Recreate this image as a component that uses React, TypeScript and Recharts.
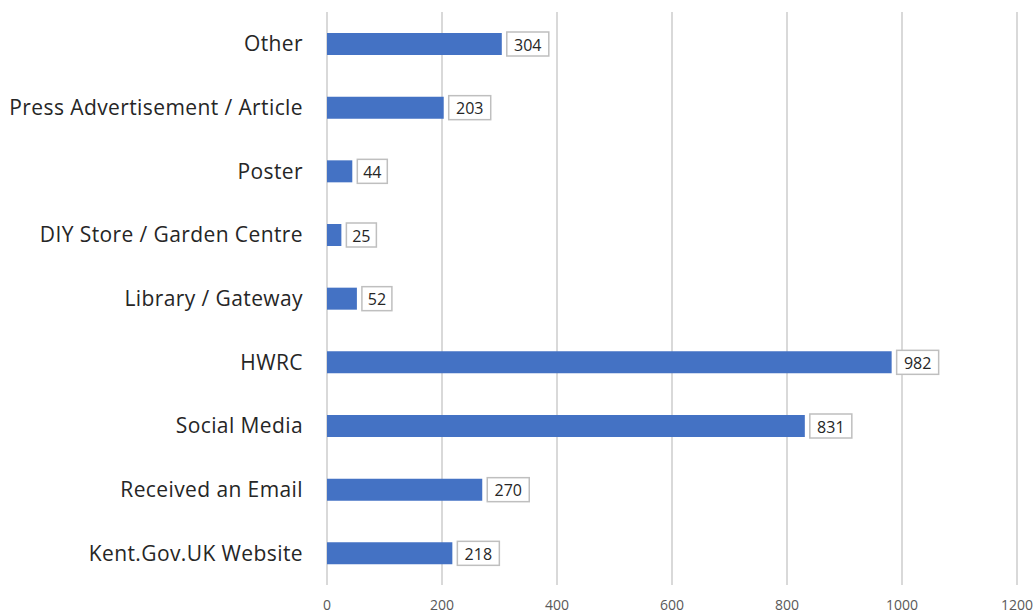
import React from 'react';
import { BarChart, Bar, XAxis, YAxis, CartesianGrid, LabelList } from 'recharts';

const categories = [
  'Other',
  'Press Advertisement / Article',
  'Poster',
  'DIY Store / Garden Centre',
  'Library / Gateway',
  'HWRC',
  'Social Media',
  'Received an Email',
  'Kent.Gov.UK Website',
];
const responses = [304, 203, 44, 25, 52, 982, 831, 270, 218];
const xTicks = [0, 200, 400, 600, 800, 1000, 1200];

const data = categories.map((name, i) => ({ name, value: responses[i] }));

const FONT = "'Open Sans', sans-serif";

// boxed value label to the right of each bar
const BoxLabel = (props: any) => {
  const { x, y, width, height, value } = props;
  const text = String(value);
  const w = text.length * 12 + 6;
  const bx = Number(x) + Number(width) + 5;
  const by = Number(y) + Number(height) / 2 - 12;
  return (
    <g>
      <rect x={bx} y={by} width={w} height={24} fill="#fff" stroke="#bfbfbf" strokeWidth={1.5} />
      <text
        x={bx + w / 2}
        y={by + 12.5}
        textAnchor="middle"
        dominantBaseline="central"
        fontSize={16}
        fontFamily={FONT}
        fill="#262626"
      >
        {text}
      </text>
    </g>
  );
};

export default function App() {
  return (
    <div style={{ position: 'absolute', left: 0, top: 0, background: '#fff' }}>
      <BarChart
        width={1036}
        height={615}
        data={data}
        layout="vertical"
        margin={{ top: 12, right: 19, bottom: 0, left: 0 }}
        barCategoryGap={0}
      >
        <CartesianGrid horizontal={false} stroke="#d9d9d9" strokeWidth={2} />
        <XAxis
          type="number"
          domain={[0, 1200]}
          ticks={xTicks}
          interval={0}
          axisLine={false}
          tickLine={false}
          tickMargin={9}
          height={30}
          tick={{ fontSize: 14, fill: '#595959', fontFamily: FONT }}
        />
        <YAxis
          type="category"
          dataKey="name"
          width={327}
          axisLine={false}
          tickLine={false}
          tickMargin={18}
          interval={0}
          tick={{ fontSize: 21, fill: '#262626', fontFamily: FONT, letterSpacing: 0.4 }}
        />
        <Bar dataKey="value" fill="#4472c4" barSize={22} isAnimationActive={false}>
          <LabelList dataKey="value" content={BoxLabel} />
        </Bar>
      </BarChart>
    </div>
  );
}
